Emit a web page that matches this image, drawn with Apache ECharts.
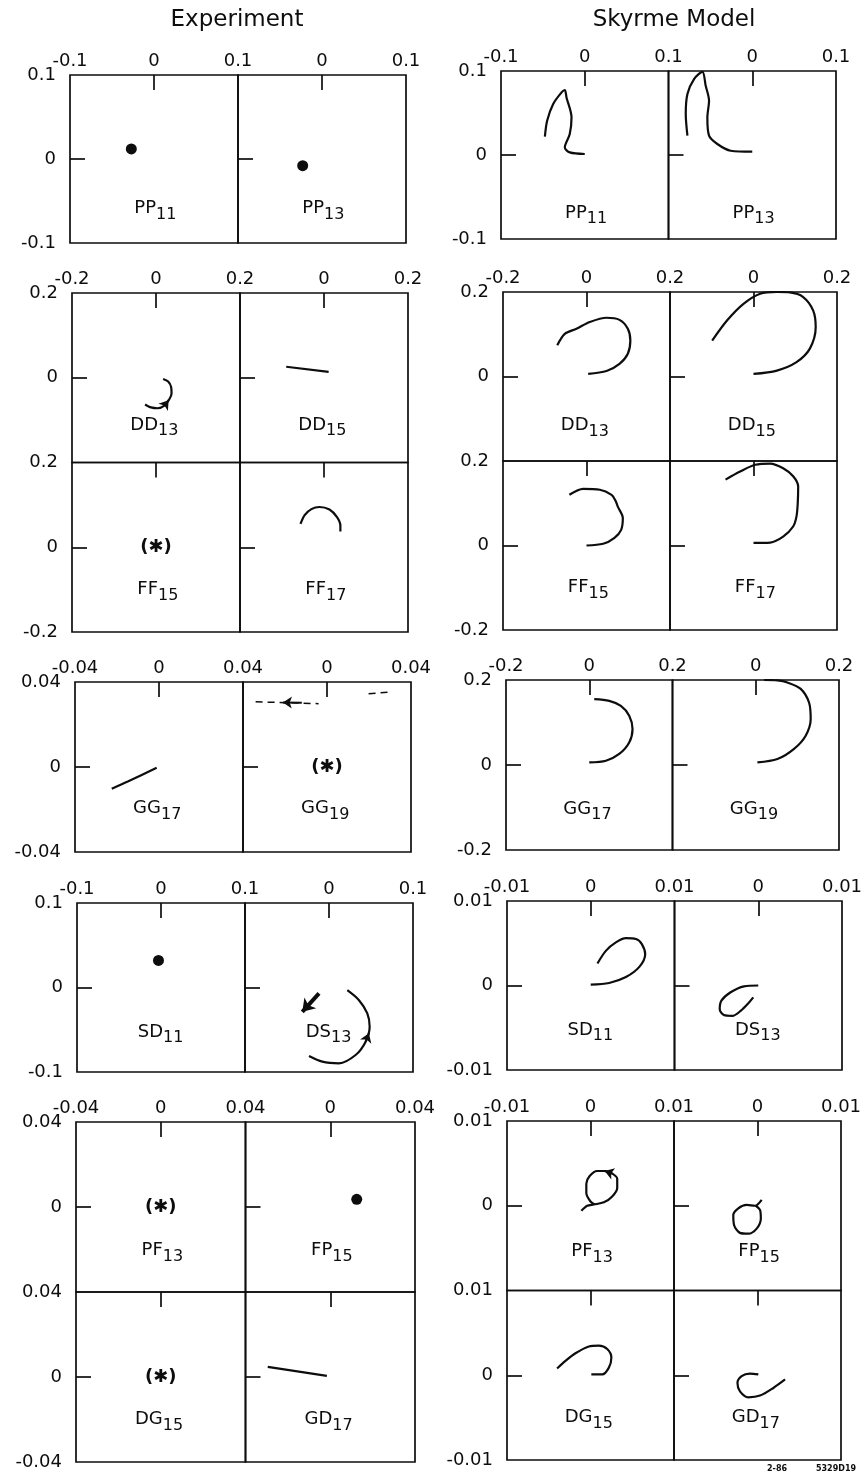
<!DOCTYPE html>
<html>
<head>
<meta charset="utf-8">
<script src="https://cdn.jsdelivr.net/npm/echarts@6/dist/echarts.min.js"></script>
<style>
  html, body { margin: 0; padding: 0; background: #fff; }
  #chart { width: 863px; height: 1475px; }
</style>
</head>
<body>
<div id="chart"></div>
<script>
// ---------- Argand-diagram values (Re, Im) ----------

// Experiment
const expPP11Dot = [[-0.027, 0.012]];
const expPP13Dot = [[-0.023, -0.008]];
const expDD13 = [[-0.026,-0.063],[-0.012,-0.070],[0.004,-0.072],[0.020,-0.066],[0.031,-0.052],[0.037,-0.038],[0.036,-0.022],[0.029,-0.009],[0.017,-0.003]];
const expDD13Arrow = [[0.020,-0.066],[0.030,-0.053]];
const expDD15 = [[-0.090,0.026],[0.011,0.014]];
const expFF17 = [[-0.056,0.055],[-0.046,0.076],[-0.030,0.090],[-0.011,0.095],[0.013,0.089],[0.031,0.071],[0.039,0.051],[0.039,0.037]];
const expGG17 = [[-0.0225,-0.0102],[-0.0146,-0.0067],[-0.0011,-0.0003]];
const expGG19Trace = [[-0.034,0.0307],[-0.004,0.0298]];
const expGG19Trace2 = [[0.0198,0.0345],[0.0294,0.0352]];
const expGG19Arrow = [[-0.012,0.0302],[-0.021,0.0304]];
const expSD11Dot = [[-0.003,0.032]];
const expDS13 = [[-0.0238,-0.0811],[-0.008,-0.0878],[0.0119,-0.0897],[0.0317,-0.0799],[0.0436,-0.0642],[0.0484,-0.0465],[0.0456,-0.0307],[0.0357,-0.015],[0.0218,-0.0032]];
const expDS13Arrow = [[0.0436,-0.0642],[0.0475,-0.054]];
const expDS13Turn = [[-0.0119,-0.007],[-0.0318,-0.0288]];
const expFP15Dot = [[0.0125,0.0036]];
const expGD17 = [[-0.0295,0.0048],[-0.0016,0.0005]];
const unresolved = [[0, 0]];

// Skyrme model
const modPP11 = [[0,0.0012],[-0.0179,0.0031],[-0.0238,0.009],[-0.0179,0.025],[-0.0158,0.0447],[-0.0218,0.0685],[-0.0238,0.0774],[-0.0277,0.0745],[-0.0377,0.0607],[-0.0449,0.0408],[-0.0476,0.0218]];
const modPP13 = [[0,0.0039],[-0.0258,0.0051],[-0.0417,0.0131],[-0.0516,0.023],[-0.0536,0.0447],[-0.0516,0.0646],[-0.0556,0.0825],[-0.0595,0.099],[-0.0695,0.0904],[-0.0774,0.0726],[-0.0794,0.0488],[-0.0774,0.023]];
const modDD13 = [[0.004,0.006],[0.048,0.013],[0.079,0.030],[0.099,0.054],[0.105,0.085],[0.099,0.113],[0.079,0.134],[0.048,0.139],[0.008,0.129],[-0.024,0.113],[-0.052,0.101],[-0.070,0.074]];
const modDD15 = [[0,0.006],[0.056,0.014],[0.103,0.034],[0.135,0.066],[0.149,0.117],[0.143,0.156],[0.119,0.188],[0.087,0.199],[0.056,0.2],[0.016,0.196],[-0.024,0.172],[-0.063,0.133],[-0.099,0.085]];
const modFF15 = [[0,0],[0.040,0.004],[0.067,0.018],[0.083,0.037],[0.087,0.065],[0.075,0.092],[0.069,0.107],[0.060,0.120],[0.032,0.132],[-0.008,0.134],[-0.041,0.120]];
const modFF17 = [[0,0.006],[0.040,0.007],[0.071,0.021],[0.095,0.045],[0.103,0.069],[0.106,0.101],[0.107,0.140],[0.095,0.164],[0.071,0.183],[0.040,0.194],[0.004,0.191],[-0.032,0.175],[-0.067,0.156]];
const modGG17 = [[0,0.006],[0.040,0.010],[0.072,0.026],[0.096,0.053],[0.104,0.085],[0.096,0.116],[0.076,0.139],[0.048,0.151],[0.012,0.155]];
const modGG19 = [[0.004,0.006],[0.052,0.014],[0.092,0.038],[0.120,0.069],[0.132,0.108],[0.128,0.147],[0.108,0.179],[0.076,0.194],[0.052,0.199],[0.020,0.2]];
const modSD11 = [[0,0.0001],[0.0022,0.0003],[0.0042,0.001],[0.0058,0.0022],[0.0065,0.0037],[0.0061,0.0049],[0.0054,0.0055],[0.0042,0.0056],[0.003,0.0051],[0.0018,0.0041],[0.0008,0.0026]];
const modDS13 = [[0,0],[-0.0017,-0.0001],[-0.0033,-0.0008],[-0.0044,-0.0018],[-0.0046,-0.0028],[-0.0041,-0.0035],[-0.0031,-0.0036],[-0.0021,-0.003],[-0.0011,-0.002],[-0.0006,-0.0014]];
const modPF13 = [[-0.0011,-0.0006],[-0.0004,0],[0.0004,0.00015],[0.0016,0.0004],[0.0026,0.0011],[0.0032,0.0021],[0.0032,0.0032],[0.0026,0.0038],[0.0018,0.0041],[0.0008,0.0041],[-0.0001,0.0035],[-0.0005,0.0026],[-0.0005,0.0015],[0,0.0005],[0.0005,0.00015]];
const modPF13Arrow = [[0.0026,0.0038],[0.0017,0.0041]];
const modFP15 = [[0.0005,0.0007],[-0.0003,0],[-0.0013,0.0001],[-0.0023,-0.0003],[-0.0029,-0.0011],[-0.0028,-0.0023],[-0.0021,-0.0032],[-0.0011,-0.0033],[-0.0001,-0.0027],[0.0004,-0.0015],[0.0003,-0.0005],[-0.0002,0]];
const modDG15 = [[0.0001,0.0001],[0.0014,0.0001],[0.0022,0.0009],[0.0025,0.0021],[0.002,0.0031],[0.001,0.0035],[-0.0002,0.0034],[-0.0018,0.0026],[-0.003,0.0017],[-0.004,0.0008]];
const modGD17 = [[0.0001,0.0001],[-0.0009,0.0002],[-0.0019,-0.0001],[-0.0024,-0.0009],[-0.0021,-0.0019],[-0.0011,-0.0026],[0.0003,-0.0024],[0.0019,-0.0015],[0.0033,-0.0005]];

// Axis half-ranges (also the tick step) for each block of panels
const expRanges = [0.1, 0.2, 0.04, 0.1, 0.04];
const modRanges = [0.1, 0.2, 0.2, 0.01, 0.01];

// Partial-wave names per block: rows of [letters, subscript]
const blockNames = [
  [[['PP','11'],['PP','13']]],
  [[['DD','13'],['DD','15']], [['FF','15'],['FF','17']]],
  [[['GG','17'],['GG','19']]],
  [[['SD','11'],['DS','13']]],
  [[['PF','13'],['FP','15']], [['DG','15'],['GD','17']]]
];

const expMarks = {
  PP11: { dots: expPP11Dot },
  PP13: { dots: expPP13Dot },
  DD13: { curves: [expDD13], arrows: [expDD13Arrow] },
  DD15: { curves: [expDD15] },
  FF15: { stars: unresolved },
  FF17: { curves: [expFF17] },
  GG17: { curves: [expGG17] },
  GG19: { stars: unresolved, dashed: [expGG19Trace, expGG19Trace2], arrows: [expGG19Arrow] },
  SD11: { dots: expSD11Dot },
  DS13: { curves: [expDS13], arrows: [expDS13Arrow], boldArrows: [expDS13Turn] },
  PF13: { stars: unresolved },
  FP15: { dots: expFP15Dot },
  DG15: { stars: unresolved },
  GD17: { curves: [expGD17] }
};
const modMarks = {
  PP11: { curves: [modPP11] },
  PP13: { curves: [modPP13] },
  DD13: { curves: [modDD13] },
  DD15: { curves: [modDD15] },
  FF15: { curves: [modFF15] },
  FF17: { curves: [modFF17] },
  GG17: { curves: [modGG17] },
  GG19: { curves: [modGG19] },
  SD11: { curves: [modSD11] },
  DS13: { curves: [modDS13] },
  PF13: { curves: [modPF13], arrows: [modPF13Arrow] },
  FP15: { curves: [modFP15] },
  DG15: { curves: [modDG15] },
  GD17: { curves: [modGD17] }
};

// ---------- layout ----------
const INK = '#0d0d0d';
const FONT = "'DejaVu Sans', sans-serif";
// [left, top, cell width, cell height] of each block
const expGeom = [[70,75,168,168],[72,293,168,169.5],[75,682,168,170],[77,903,168,169],[76,1122,169.5,170]];
const modGeom = [[501,71,167.5,168],[503,292,167,169],[506,680,166.5,170],[507,901,167.5,169],[507,1121,167,169.5]];
// vertical place of the wave name (fraction of half-range) in the upper row of each block
const expNameY = [-0.59, -0.56, -0.49, -0.53, -0.51];
const modNameY = [-0.69, -0.58, -0.52, -0.53, -0.54];

const grid = [], xAxis = [], yAxis = [], series = [];

function tickStyle() {
  return { show: true, inside: true, length: 15, customValues: [0], lineStyle: { color: INK, width: 1.7 } };
}
function labelStyle(show, showMin, margin) {
  return { show, showMinLabel: showMin, showMaxLabel: true, margin, fontFamily: FONT, fontSize: 18, color: INK };
}

function addPanel(g, r, nm, m, nameY) {
  const base = { xAxisIndex: g, yAxisIndex: g, silent: true, animation: false };
  // wave name with subscript
  series.push(Object.assign({}, base, {
    type: 'scatter', symbolSize: 1, itemStyle: { color: 'rgba(0,0,0,0)', opacity: 1 },
    data: [
      { value: [0, nameY], label: { show: true, position: 'inside', formatter: nm[0], align: 'right', offset: [2, 0], fontFamily: FONT, fontSize: 18, color: INK } },
      { value: [0, nameY], label: { show: true, position: 'inside', formatter: nm[1], align: 'left', offset: [2, 6], fontFamily: FONT, fontSize: 16, color: INK } }
    ]
  }));
  (m.curves || []).forEach(c => series.push(Object.assign({}, base, {
    type: 'line', data: c, showSymbol: false, symbol: 'none', smooth: 0.3,
    lineStyle: { color: INK, width: 2.2 }, z: 3
  })));
  (m.dashed || []).forEach(c => series.push(Object.assign({}, base, {
    type: 'line', data: c, showSymbol: false, symbol: 'none',
    lineStyle: { color: INK, width: 1.5, type: [7, 5] }, z: 3
  })));
  if (m.dots) series.push(Object.assign({}, base, {
    type: 'scatter', data: m.dots, symbol: 'circle', symbolSize: 11,
    itemStyle: { color: INK, opacity: 1 }, z: 4
  }));
  if (m.stars) series.push(Object.assign({}, base, {
    type: 'scatter', data: m.stars, symbolSize: 1, itemStyle: { color: 'rgba(0,0,0,0)', opacity: 1 },
    label: { show: true, position: 'inside', formatter: '(\u2731)', fontFamily: FONT, fontSize: 18, fontWeight: 'bold', color: INK }
  }));
  (m.arrows || []).forEach(a => series.push(Object.assign({}, base, {
    type: 'lines', coordinateSystem: 'cartesian2d', polyline: false,
    symbol: ['none', 'arrow'], symbolSize: 9,
    lineStyle: { color: INK, width: 2, opacity: 1, curveness: 0 },
    data: [{ coords: a }], z: 4
  })));
  (m.boldArrows || []).forEach(a => series.push(Object.assign({}, base, {
    type: 'lines', coordinateSystem: 'cartesian2d', polyline: false,
    symbol: ['none', 'arrow'], symbolSize: 12,
    lineStyle: { color: INK, width: 4, opacity: 1, curveness: 0 },
    data: [{ coords: a }], z: 4
  })));
}

function buildColumn(ranges, geom, marks, nameFracs) {
  blockNames.forEach((rows, b) => {
    const r = ranges[b];
    const [left, top, w, h] = geom[b];
    rows.forEach((row, ri) => {
      row.forEach((nm, ci) => {
        const g = grid.length;
        grid.push({
          left: left + ci * w, top: top + ri * h, width: w, height: h,
          show: true, borderColor: INK, borderWidth: 1.7,
          backgroundColor: 'rgba(0,0,0,0)', containLabel: false, outerBoundsMode: 'none'
        });
        xAxis.push({
          gridIndex: g, type: 'value', position: 'top', min: -r, max: r, interval: r,
          axisLine: { show: false, onZero: false }, axisTick: tickStyle(),
          axisLabel: labelStyle(ri === 0, ci === 0, 5), splitLine: { show: false }
        });
        yAxis.push({
          gridIndex: g, type: 'value', position: 'left', min: -r, max: r, interval: r,
          axisLine: { show: false, onZero: false }, axisTick: tickStyle(),
          axisLabel: labelStyle(ci === 0, !(rows.length === 2 && ri === 0), 14), splitLine: { show: false }
        });
        const frac = ri === 0 ? nameFracs[b] : -0.5;
        addPanel(g, r, nm, marks[nm[0] + nm[1]] || {}, frac * r);
      });
    });
  });
}

buildColumn(expRanges, expGeom, expMarks, expNameY);
buildColumn(modRanges, modGeom, modMarks, modNameY);

const chart = echarts.init(document.getElementById('chart'), null, { renderer: 'canvas' });
chart.setOption({
  backgroundColor: '#ffffff',
  animation: false,
  grid, xAxis, yAxis, series,
  graphic: [
    { type: 'text', x: 237, y: 20, style: { text: 'Experiment', font: "23px 'DejaVu Sans'", fill: INK, textAlign: 'center', textVerticalAlign: 'middle' } },
    { type: 'text', x: 674, y: 20, style: { text: 'Skyrme Model', font: "23px 'DejaVu Sans'", fill: INK, textAlign: 'center', textVerticalAlign: 'middle' } },
    { type: 'text', x: 777, y: 1469, style: { text: '2-86', font: "bold 8px 'DejaVu Sans'", fill: INK, textAlign: 'center', textVerticalAlign: 'middle' } },
    { type: 'text', x: 836, y: 1469, style: { text: '5329D19', font: "bold 8px 'DejaVu Sans'", fill: INK, textAlign: 'center', textVerticalAlign: 'middle' } }
  ]
});
</script>
</body>
</html>
